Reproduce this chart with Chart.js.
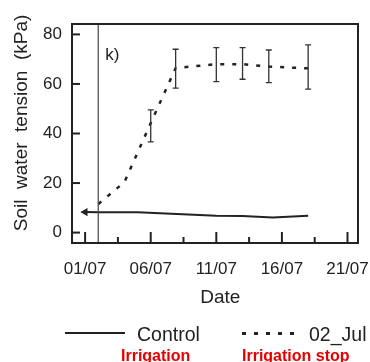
<!DOCTYPE html>
<html>
<head>
<meta charset="utf-8">
<script src="https://cdn.jsdelivr.net/npm/chart.js@4/dist/chart.umd.min.js"></script>
<style>
    html, body { margin: 0; padding: 0; background: #fff; }
    #wrap { position: relative; width: 370px; height: 362px; overflow: hidden; font-family: "Liberation Sans", Arial, sans-serif; }
    #chart { position: absolute; left: 0; top: 0; }
    .lg { position: absolute; white-space: nowrap; color: #222; font-size: 19.5px; line-height: 20px; }
    .red { position: absolute; white-space: nowrap; color: #e60000; font-weight: bold; font-size: 16px; line-height: 16px; }
    #lineCtrl { position: absolute; left: 65px; top: 332px; width: 60px; height: 2px; background: #222; }
    #lineStop { position: absolute; left: 242px; top: 332px; width: 53px; height: 3px;
        background: repeating-linear-gradient(to right, #222 0 4px, transparent 4px 12px); }
</style>
</head>
<body>
<div id="wrap">
    <canvas id="chart" width="370" height="362"></canvas>
    <div id="lineCtrl"></div>
    <div class="lg" style="left:137px; top:324px;">Control</div>
    <div id="lineStop"></div>
    <div class="lg" style="left:309px; top:324px;">02_Jul</div>
    <div class="red" style="left:121px; top:348px;">Irrigation</div>
    <div class="red" style="left:242px; top:348px;">Irrigation stop</div>
</div>
<script>
'use strict';

// datos (dia de julio)
const CONTROL_DAYS = [1, 2, 5, 8, 11, 13, 15.3, 18];
const CONTROL_KPA = [8.3, 8.2, 8.2, 7.5, 6.8, 6.7, 6.1, 6.8];

const STOP_DAYS = [2, 4, 6, 7.9, 11, 13, 15, 18];
const STOP_KPA = [11.5, 20.4, 44.2, 66.4, 68, 68, 67, 66.3];
const STOP_ERR_DAYS = [6, 7.9, 11, 13, 15, 18];
const STOP_ERR_LOW = [36.6, 58.3, 60.9, 61.9, 60.5, 57.9];
const STOP_ERR_HIGH = [49.5, 74, 74.7, 74.7, 73.7, 75.8];

const X_TICK_DAYS = [1, 6, 11, 16, 21];
const X_TICK_LABELS = ['01/07', '06/07', '11/07', '16/07', '21/07'];
const X_MINOR_DAYS = [3.5, 8.5, 13.5, 18.5];
const Y_TICKS = [0, 20, 40, 60, 80];
const STOP_DAY = 2;

const INK = '#222';

let puntos = (xs, ys) => xs.map((x, i) => ({ x: x, y: ys[i] }));

// marco, marcas hacia dentro, linea vertical y barras de error
const marcoPlugin = {
    id: 'marco',
    afterDatasetsDraw(chart) {
        const ctx = chart.ctx;
        const a = chart.chartArea;
        const sx = chart.scales.x;
        const sy = chart.scales.y;
        ctx.save();

        // linea del 2 de julio
        ctx.strokeStyle = '#444';
        ctx.lineWidth = 1.2;
        let xv = sx.getPixelForValue(STOP_DAY);
        ctx.beginPath();
        ctx.moveTo(xv, a.top);
        ctx.lineTo(xv, a.bottom);
        ctx.stroke();

        // barras de error
        ctx.strokeStyle = '#333';
        ctx.lineWidth = 1.3;
        for (let i = 0; i < STOP_ERR_DAYS.length; i++) {
            let x = sx.getPixelForValue(STOP_ERR_DAYS[i]);
            let y1 = sy.getPixelForValue(STOP_ERR_LOW[i]);
            let y2 = sy.getPixelForValue(STOP_ERR_HIGH[i]);
            ctx.beginPath();
            ctx.moveTo(x, y1); ctx.lineTo(x, y2);
            ctx.moveTo(x - 3, y1); ctx.lineTo(x + 3, y1);
            ctx.moveTo(x - 3, y2); ctx.lineTo(x + 3, y2);
            ctx.stroke();
        }

        // marcas del eje x
        ctx.strokeStyle = INK;
        ctx.lineWidth = 2;
        for (let i = 0; i < X_TICK_DAYS.length; i++) {
            let x = sx.getPixelForValue(X_TICK_DAYS[i]);
            ctx.beginPath();
            ctx.moveTo(x, a.bottom);
            ctx.lineTo(x, a.bottom - 11);
            ctx.stroke();
        }
        for (let i = 0; i < X_MINOR_DAYS.length; i++) {
            let x = sx.getPixelForValue(X_MINOR_DAYS[i]);
            ctx.beginPath();
            ctx.moveTo(x, a.bottom);
            ctx.lineTo(x, a.bottom - 6);
            ctx.stroke();
        }
        // marcas del eje y
        for (let i = 0; i < Y_TICKS.length; i++) {
            let y = sy.getPixelForValue(Y_TICKS[i]);
            ctx.beginPath();
            ctx.moveTo(a.left, y);
            ctx.lineTo(a.left + 8, y);
            ctx.stroke();
        }

        // marco
        ctx.lineWidth = 2;
        ctx.strokeRect(a.left, a.top, a.right - a.left, a.bottom - a.top);

        // etiqueta del panel
        ctx.fillStyle = INK;
        ctx.font = '17px "Liberation Sans", Arial, sans-serif';
        ctx.textBaseline = 'alphabetic';
        ctx.textAlign = 'left';
        ctx.fillText('k)', xv + 7, a.top + 36);

        ctx.restore();
    }
};

new Chart(document.getElementById('chart'), {
    type: 'line',
    data: {
        datasets: [{
            label: 'Control',
            data: puntos(CONTROL_DAYS, CONTROL_KPA),
            borderColor: INK,
            backgroundColor: INK,
            borderWidth: 2,
            pointStyle: 'triangle',
            pointRotation: -90,
            pointRadius: CONTROL_DAYS.map((d, i) => i === 0 ? 2.8 : 0),
            tension: 0,
            fill: false
        }, {
            label: '02_Jul',
            data: puntos(STOP_DAYS, STOP_KPA),
            borderColor: INK,
            borderWidth: 2.5,
            borderDash: [4, 8],
            pointRadius: 0,
            tension: 0,
            fill: false
        }]
    },
    options: {
        responsive: false,
        animation: false,
        devicePixelRatio: 1,
        layout: { padding: { left: 10, right: 12, top: 24, bottom: 53 } },
        plugins: { legend: { display: false }, tooltip: { enabled: false } },
        scales: {
            x: {
                type: 'linear',
                min: 0,
                max: 21.8,
                afterFit: (s) => { s.height = 66; s.paddingLeft = 0; s.paddingRight = 0; },
                afterBuildTicks: (s) => { s.ticks = X_TICK_DAYS.map(v => ({ value: v })); },
                grid: { display: false, drawTicks: false },
                border: { display: false },
                ticks: {
                    padding: 16,
                    color: INK,
                    maxRotation: 0,
                    font: { family: '"Liberation Sans", Arial, sans-serif', size: 17 },
                    callback: (v) => X_TICK_LABELS[X_TICK_DAYS.indexOf(v)]
                },
                title: {
                    display: true,
                    text: '  Date',
                    color: INK,
                    padding: 0,
                    font: { family: '"Liberation Sans", Arial, sans-serif', size: 19 }
                }
            },
            y: {
                min: -4.2,
                max: 84.2,
                afterFit: (s) => { s.width = 62; s.paddingTop = 0; s.paddingBottom = 0; },
                afterBuildTicks: (s) => { s.ticks = Y_TICKS.map(v => ({ value: v })); },
                grid: { display: false, drawTicks: false },
                border: { display: false },
                ticks: {
                    padding: 10,
                    color: INK,
                    font: { family: '"Liberation Sans", Arial, sans-serif', size: 17 }
                },
                title: {
                    display: true,
                    text: '    Soil  water  tension  (kPa)',
                    color: INK,
                    padding: 0,
                    font: { family: '"Liberation Sans", Arial, sans-serif', size: 19 }
                }
            }
        }
    },
    plugins: [marcoPlugin]
});
</script>
</body>
</html>
